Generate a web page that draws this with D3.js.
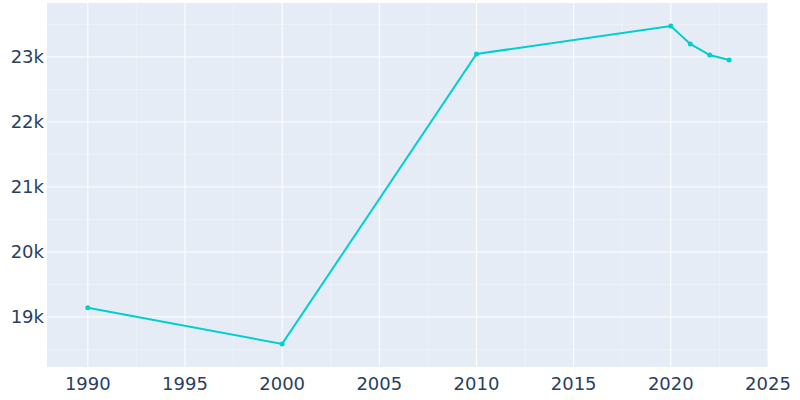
<!DOCTYPE html>
<html><head><meta charset="utf-8">
<script src="https://cdn.jsdelivr.net/npm/d3@7"></script>
<style>body{margin:0;background:#fff}</style>
</head><body>
<svg id="chart" width="800" height="400"></svg>
<script>
var years = [1990, 2000, 2010, 2020, 2021, 2022, 2023];
var population = [19140, 18585, 23046, 23477, 23200, 23030, 22954];
var xTicks = [1990, 1995, 2000, 2005, 2010, 2015, 2020, 2025];
var yTicks = [19000, 20000, 21000, 22000, 23000];

var svg = d3.select("#chart");
var pLeft = 47, pRight = 768, pTop = 3, pBottom = 367;
var font = "DejaVu Sans, sans-serif";

var x = d3.scaleLinear().domain([1987.9, 2025]).range([pLeft, pRight]);
var y = d3.scaleLinear().domain([18230, 23830]).range([pBottom, pTop]);

svg.append("rect").attr("x", pLeft).attr("y", pTop)
    .attr("width", pRight - pLeft).attr("height", pBottom - pTop)
    .attr("fill", "#E5ECF6");

// minor grid
svg.selectAll(".xminor").data(d3.range(1992.5, 2025, 5)).enter().append("line")
    .attr("x1", x).attr("x2", x).attr("y1", pTop).attr("y2", pBottom)
    .attr("stroke", "#fff").attr("stroke-opacity", 0.5).attr("stroke-width", 0.6);
svg.selectAll(".yminor").data(d3.range(18500, 23830, 1000)).enter().append("line")
    .attr("x1", pLeft).attr("x2", pRight).attr("y1", y).attr("y2", y)
    .attr("stroke", "#fff").attr("stroke-opacity", 0.5).attr("stroke-width", 0.6);

svg.selectAll(".xgrid").data(xTicks).enter().append("line")
    .attr("x1", x).attr("x2", x).attr("y1", pTop).attr("y2", pBottom)
    .attr("stroke", "#fff").attr("stroke-width", 1);
svg.selectAll(".ygrid").data(yTicks).enter().append("line")
    .attr("x1", pLeft).attr("x2", pRight).attr("y1", y).attr("y2", y)
    .attr("stroke", "#fff").attr("stroke-width", 1);

svg.selectAll(".xlab").data(xTicks).enter().append("text")
    .attr("x", x).attr("y", 390).attr("text-anchor", "middle")
    .attr("font-family", font).attr("font-size", 18)
    .attr("fill", "#2a3f5f").text(function(d){return d;});
svg.selectAll(".ylab").data(yTicks).enter().append("text")
    .attr("x", pLeft - 3).attr("y", function(d){return y(d) + 6;}).attr("text-anchor", "end")
    .attr("font-family", font).attr("font-size", 18)
    .attr("fill", "#2a3f5f").text(function(d){return (d / 1000) + "k";});

var pts = years.map(function(d, i){return [d, population[i]];});
svg.append("path").datum(pts)
    .attr("d", d3.line().x(function(d){return x(d[0]);}).y(function(d){return y(d[1]);}))
    .attr("fill", "none").attr("stroke", "#00CED1").attr("stroke-width", 2);
svg.selectAll(".pt").data(pts).enter().append("circle")
    .attr("cx", function(d){return x(d[0]);}).attr("cy", function(d){return y(d[1]);})
    .attr("r", 2.5).attr("fill", "#00CED1");
</script>
</body></html>
